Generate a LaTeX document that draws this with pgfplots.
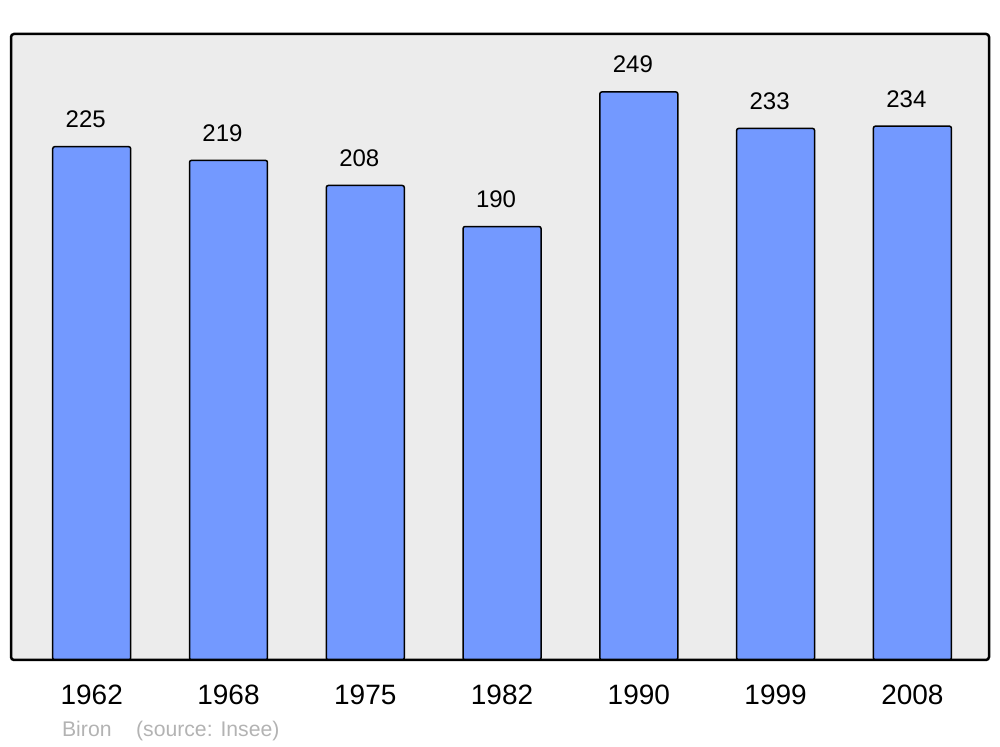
\documentclass[border=0pt]{standalone}
\usepackage{pgfplots}
\pgfplotsset{compat=1.18}
\usepackage{fontspec}
\setmainfont{Liberation Sans}
\definecolor{barblue}{HTML}{7399FF}
\definecolor{bg}{HTML}{ECECEC}
\definecolor{foot}{HTML}{B3B3B3}
\begin{document}
\begin{tikzpicture}
\path[use as bounding box] (0,0) rectangle (500pt,373.5pt);
\begin{axis}[
  at={(5.5pt,43.5pt)}, anchor=south west,
  scale only axis, width=489pt, height=313pt,
  xmin=-0.59, xmax=6.56, ymin=0, ymax=274.4,
  axis line style={draw=none},
  clip=false,
  /pgf/number format/assume math mode=true,
  ytick=\empty,
  xtick={0,1,2,3,4,5,6},
  xticklabels={1962,1968,1975,1982,1990,1999,2008},
  major tick length=0pt,
  xticklabel style={font=\fontsize{14}{16}\selectfont, anchor=base, yshift=-22.5pt},
  nodes near coords,
  every node near coord/.append style={font=\fontsize{12}{14}\selectfont, anchor=base, yshift=9.5pt, xshift=-3pt, text=black},
]
\fill[bg, rounded corners=1.5pt] (rel axis cs:0,0) rectangle (rel axis cs:1,1);
\addplot[ybar, bar width=0.57, fill=barblue, draw=black, line width=0.75pt, rounded corners=1pt] coordinates {
(0,225) (1,219) (2,208) (3,190) (4,249) (5,233) (6,234)};
\draw[line width=1.25pt, rounded corners=1.5pt] (rel axis cs:0,0) rectangle (rel axis cs:1,1);
\end{axis}
\node[anchor=base west, inner sep=0, text=foot, font=\fontsize{10.6}{12}\selectfont] at (30.85pt,5.15pt) {Biron};
\node[anchor=base west, inner sep=0, text=foot, font=\fontsize{10.6}{12}\selectfont] at (67.85pt,5.15pt) {(source: Insee)};
\end{tikzpicture}
\end{document}
